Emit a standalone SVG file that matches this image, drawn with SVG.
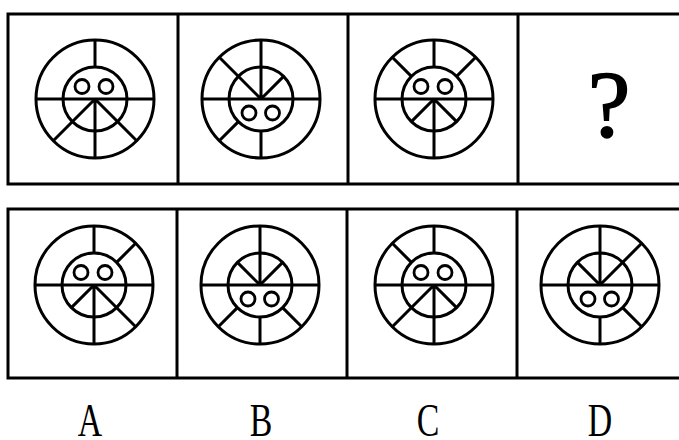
<svg xmlns="http://www.w3.org/2000/svg" xmlns:xlink="http://www.w3.org/1999/xlink" width="679" height="440" viewBox="0 0 679 440">
<style>
.frame{fill:none;stroke:#000;stroke-width:3}
.ln{fill:none;stroke:#000;stroke-width:3}
.eye{fill:none;stroke:#000;stroke-width:2.8}
.lbl{font-family:"Liberation Serif",serif;font-size:47px;fill:#000;text-anchor:middle}
.q{font-family:"Liberation Serif",serif;font-size:96px;fill:#000;stroke:#000;stroke-width:1.5;text-anchor:middle}
</style>
<defs>
<g id="base">
<circle class="ln" cx="0" cy="0" r="59"/>
<circle class="ln" cx="0" cy="0" r="32"/>
<line class="ln" x1="-59" y1="0" x2="59" y2="0"/>
</g>
<g id="eyesUp">
<circle class="eye" cx="-13" cy="-12.5" r="7"/>
<circle class="eye" cx="11" cy="-12.5" r="7"/>
</g>
<g id="eyesDown">
<circle class="eye" cx="-12" cy="14" r="7"/>
<circle class="eye" cx="11.5" cy="14" r="7"/>
</g>
</defs>
<rect width="679" height="440" fill="#fff"/>
<g id="frames">
<path class="frame" d="M690,14 H8 V184 H690 M178,14 V184 M348,14 V184 M518,14 V184"/>
<path class="frame" d="M690,209 H8 V378 H690 M177,209 V378 M347,209 V378 M517,209 V378"/>
</g>
<g id="top1" transform="translate(95,99)">
<use xlink:href="#base"/><use xlink:href="#eyesUp"/>
<path class="ln" d="M0,-32 V-59 M0,0 V59 M0,0 L-41.7,41.7 M0,0 L41.7,41.7"/>
</g>
<g id="top2" transform="translate(261,99)">
<use xlink:href="#base"/><use xlink:href="#eyesDown"/>
<path class="ln" d="M0,0 V-59 M0,32 V59 M0,0 L-41.7,-41.7 M0,0 L22.6,-22.6 M-22.6,22.6 L-41.7,41.7"/>
</g>
<g id="top3" transform="translate(434,99)">
<use xlink:href="#base"/><use xlink:href="#eyesUp"/>
<path class="ln" d="M0,-32 V-59 M0,0 V59 M-22.6,-22.6 L-41.7,-41.7 M22.6,-22.6 L41.7,-41.7 M0,0 L-22.6,22.6 M0,0 L22.6,22.6"/>
</g>
<g id="question">
<text class="q" x="609" y="137">?</text>
</g>
<g id="optA" transform="translate(94,285)">
<use xlink:href="#base"/><use xlink:href="#eyesUp"/>
<path class="ln" d="M0,-32 V-59 M0,0 V59 M22.6,-22.6 L41.7,-41.7 M0,0 L-22.6,22.6 M0,0 L41.7,41.7"/>
</g>
<g id="optB" transform="translate(260,285)">
<use xlink:href="#base"/><use xlink:href="#eyesDown"/>
<path class="ln" d="M0,0 V-59 M0,32 V59 M0,0 L-22.6,-22.6 M0,0 L22.6,-22.6 M-22.6,22.6 L-41.7,41.7 M22.6,22.6 L41.7,41.7"/>
</g>
<g id="optC" transform="translate(434,285)">
<use xlink:href="#base"/><use xlink:href="#eyesUp"/>
<path class="ln" d="M0,-32 V-59 M0,0 V59 M-22.6,-22.6 L-41.7,-41.7 M0,0 L-41.7,41.7 M0,0 L22.6,22.6"/>
</g>
<g id="optD" transform="translate(600,285)">
<use xlink:href="#base"/><use xlink:href="#eyesDown"/>
<path class="ln" d="M0,0 V-59 M0,32 V59 M0,0 L-22.6,-22.6 M0,0 L41.7,-41.7 M22.6,22.6 L41.7,41.7"/>
</g>
<g id="labels">
<text class="lbl" transform="translate(90,436) scale(0.72,1)">A</text>
<text class="lbl" transform="translate(261,436) scale(0.72,1)">B</text>
<text class="lbl" transform="translate(428,436) scale(0.72,1)">C</text>
<text class="lbl" transform="translate(600,436) scale(0.72,1)">D</text>
</g>
</svg>
